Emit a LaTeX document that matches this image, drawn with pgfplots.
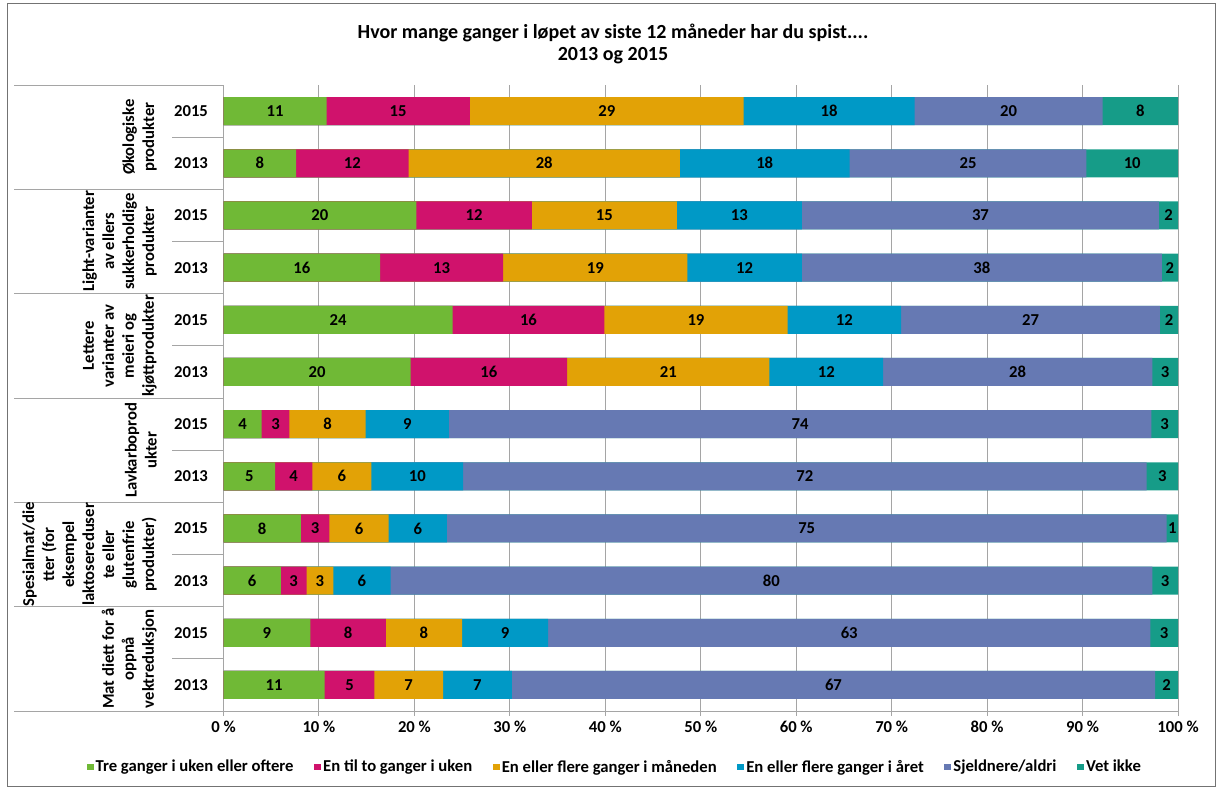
\documentclass[border=0pt]{standalone}
\usepackage{pgfplots}
\usepackage{pgfplotstable}
\pgfplotsset{compat=1.18}
\usepackage{fontspec}
\setmainfont{Carlito}
\definecolor{cgreen}{RGB}{112,185,54}
\definecolor{cmag}{RGB}{208,18,108}
\definecolor{corange}{RGB}{226,162,6}
\definecolor{cblue}{RGB}{0,153,198}
\definecolor{cpurple}{RGB}{102,121,179}
\definecolor{cteal}{RGB}{22,156,136}
\definecolor{gridc}{RGB}{165,165,165}
% y: row (0 = top); a..f = Tre ganger i uken..., En til to..., En eller flere i maaneden, ... i aaret, Sjeldnere/aldri, Vet ikke
\pgfplotstableread{
y a b c d e f
0 10.8 15.0 28.7 17.9 19.7 7.9
1 7.6 11.8 28.4 17.8 24.8 9.6
2 20.2 12.1 15.2 13.1 37.4 2.0
3 16.4 12.9 19.3 12.0 37.7 1.7
4 24.0 15.9 19.2 11.9 27.1 1.9
5 19.6 16.4 21.2 11.9 28.2 2.7
6 4.0 2.9 8.0 8.7 73.6 2.8
7 5.4 3.9 6.2 9.6 71.6 3.3
8 8.1 3.0 6.2 6.1 75.4 1.2
9 6.0 2.7 2.8 6.0 79.8 2.7
10 9.1 7.9 8.0 9.0 63.1 2.9
11 10.6 5.2 7.2 7.2 67.4 2.4
}\data
\newcommand{\lf}{\bfseries\fontsize{12.5}{15}\selectfont}
\pgfplotsset{
  barsty/.style={xbar, bar shift=0pt, draw=none, forget plot},
  labsty/.style={draw=none, mark=none, forget plot, point meta=explicit,
    nodes near coords={\pgfmathprintnumber[fixed,precision=0]{\pgfplotspointmeta}},
    every node near coord/.append style={anchor=center, font=\lf, text=black, inner sep=0pt}},
}
\begin{document}
\begin{tikzpicture}[x=0.75pt,y=-0.75pt]
\path (0,0) rectangle (1222,789);
\draw[black!55, line width=0.75pt] (7,3) rectangle (1215,786);
\node[font=\bfseries\fontsize{15}{16.5}\selectfont, align=center] at (613,44) {Hvor mange ganger i løpet av siste 12 måneder har du spist....\\2013 og 2015};
% category table lines
\foreach \k in {0,...,6} {\draw[gridc, line width=0.75pt] (14,85+\k*104.333) -- (223.5,85+\k*104.333);}
\foreach \k in {0,...,5} {\draw[gridc, line width=0.75pt] (172,137.17+\k*104.333) -- (223.5,137.17+\k*104.333);}
% group labels
\begin{scope}[every node/.style={rotate=90, anchor=south, align=center, inner sep=0pt, font=\bfseries\fontsize{12.5}{15}\selectfont}]
\node at (157,137.2) {Økologiske\\produkter};
\node at (157,241.5) {Light-varianter\\av ellers\\sukkerholdige\\produkter};
\node at (157,345.8) {Lettere\\varianter av\\meieri og\\kjøttprodukter};
\node at (157,450.2) {Lavkarboprod\\ukter};
\node at (157,554.5) {Spesialmat/die\\tter (for\\eksempel\\laktosereduser\\te eller\\glutenfrie\\produkter)};
\node at (157,658.8) {Mat diett for å\\oppnå\\vektreduksjon};
\end{scope}
\coordinate (P) at (223.5,85);
\begin{axis}[at={(P)}, anchor=north west, scale only axis,
  width=715.9pt, height=469.5pt,
  xmin=0, xmax=100, ymin=-0.5, ymax=11.5, y dir=reverse,
  axis x line*=bottom, axis y line*=left,
  axis line style={gridc, line width=0.75pt, -},
  xtick={0,10,...,100},
  xticklabels={0 \%,10 \%,20 \%,30 \%,40 \%,50 \%,60 \%,70 \%,80 \%,90 \%,100 \%},
  xmajorgrids, grid style={gridc, line width=0.75pt},
  ytick={0,...,11},
  yticklabels={2015,2013,2015,2013,2015,2013,2015,2013,2015,2013,2015,2013},
  tick align=outside, major tick length=3.75pt,
  xtick style={gridc, line width=0.75pt}, ytick style={draw=none},
  ticklabel style={font=\lf},
  yticklabel style={xshift=-4.4pt},
  /pgf/number format/assume math mode=true,
  bar width=0.537,
  clip=false,
  legend columns=6,
  legend style={at={(0.41,0)}, anchor=center, yshift=-42pt, draw=none, fill=none,
    font=\lf, /tikz/every even column/.append style={column sep=14pt},
    nodes={inner sep=1.5pt}},
  legend image code/.code={\fill[#1] (0pt,-2.6pt) rectangle (5.2pt,2.6pt);},
]
\addplot[barsty, fill=cteal] table[x expr=\thisrow{a}+\thisrow{b}+\thisrow{c}+\thisrow{d}+\thisrow{e}+\thisrow{f}, y=y]{\data};
\addplot[barsty, fill=cpurple] table[x expr=\thisrow{a}+\thisrow{b}+\thisrow{c}+\thisrow{d}+\thisrow{e}, y=y]{\data};
\addplot[barsty, fill=cblue] table[x expr=\thisrow{a}+\thisrow{b}+\thisrow{c}+\thisrow{d}, y=y]{\data};
\addplot[barsty, fill=corange] table[x expr=\thisrow{a}+\thisrow{b}+\thisrow{c}, y=y]{\data};
\addplot[barsty, fill=cmag] table[x expr=\thisrow{a}+\thisrow{b}, y=y]{\data};
\addplot[barsty, fill=cgreen] table[x=a, y=y]{\data};
\addplot[labsty] table[x expr=\thisrow{a}/2, y=y, meta=a]{\data};
\addplot[labsty] table[x expr=\thisrow{a}+\thisrow{b}/2, y=y, meta=b]{\data};
\addplot[labsty] table[x expr=\thisrow{a}+\thisrow{b}+\thisrow{c}/2, y=y, meta=c]{\data};
\addplot[labsty] table[x expr=\thisrow{a}+\thisrow{b}+\thisrow{c}+\thisrow{d}/2, y=y, meta=d]{\data};
\addplot[labsty] table[x expr=\thisrow{a}+\thisrow{b}+\thisrow{c}+\thisrow{d}+\thisrow{e}/2, y=y, meta=e]{\data};
\addplot[labsty] table[x expr=\thisrow{a}+\thisrow{b}+\thisrow{c}+\thisrow{d}+\thisrow{e}+\thisrow{f}/2, y=y, meta=f]{\data};
\addlegendimage{fill=cgreen, draw=none}
\addlegendentry{Tre ganger i uken eller oftere}
\addlegendimage{fill=cmag, draw=none}
\addlegendentry{En til to ganger i uken}
\addlegendimage{fill=corange, draw=none}
\addlegendentry{En eller flere ganger i måneden}
\addlegendimage{fill=cblue, draw=none}
\addlegendentry{En eller flere ganger i året}
\addlegendimage{fill=cpurple, draw=none}
\addlegendentry{Sjeldnere/aldri}
\addlegendimage{fill=cteal, draw=none}
\addlegendentry{Vet ikke}
\end{axis}
\end{tikzpicture}
\end{document}
